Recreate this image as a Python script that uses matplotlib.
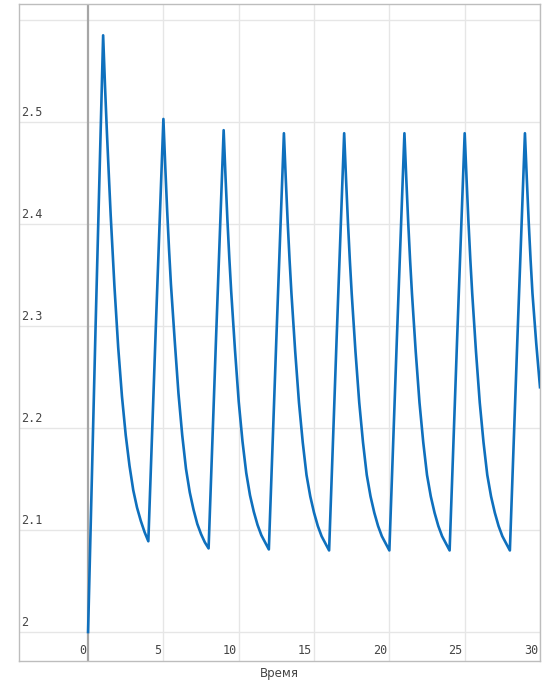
import matplotlib
matplotlib.use("Agg")
import matplotlib.pyplot as plt

# time points and values (one row per dosing cycle)
t = [0.0, 0.5, 1.0, 1.125, 1.25, 1.375, 1.5, 1.75, 2.0, 2.25, 2.5, 2.75, 3.0, 3.25, 3.5, 3.75, 4.0,
     4.5, 5.0, 5.125, 5.25, 5.375, 5.5, 5.75, 6.0, 6.25, 6.5, 6.75, 7.0, 7.25, 7.5, 7.75, 8.0,
     8.5, 9.0, 9.125, 9.25, 9.375, 9.5, 9.75, 10.0, 10.25, 10.5, 10.75, 11.0, 11.25, 11.5, 11.75, 12.0,
     12.5, 13.0, 13.125, 13.25, 13.375, 13.5, 13.75, 14.0, 14.25, 14.5, 14.75, 15.0, 15.25, 15.5, 15.75, 16.0,
     16.5, 17.0, 17.125, 17.25, 17.375, 17.5, 17.75, 18.0, 18.25, 18.5, 18.75, 19.0, 19.25, 19.5, 19.75, 20.0,
     20.5, 21.0, 21.125, 21.25, 21.375, 21.5, 21.75, 22.0, 22.25, 22.5, 22.75, 23.0, 23.25, 23.5, 23.75, 24.0,
     24.5, 25.0, 25.125, 25.25, 25.375, 25.5, 25.75, 26.0, 26.25, 26.5, 26.75, 27.0, 27.25, 27.5, 27.75, 28.0,
     28.5, 29.0, 29.125, 29.25, 29.375, 29.5, 29.75, 30.0]
y = [2.000, 2.300, 2.585, 2.535, 2.490, 2.449, 2.409, 2.339, 2.279, 2.231, 2.193, 2.163, 2.139, 2.122, 2.109, 2.098, 2.089,
     2.300, 2.503, 2.456, 2.413, 2.375, 2.341, 2.286, 2.234, 2.193, 2.160, 2.137, 2.120, 2.106, 2.096, 2.088, 2.082,
     2.290, 2.492, 2.446, 2.404, 2.367, 2.334, 2.277, 2.226, 2.187, 2.156, 2.134, 2.118, 2.105, 2.095, 2.088, 2.081,
     2.288, 2.489, 2.444, 2.402, 2.365, 2.332, 2.275, 2.225, 2.186, 2.154, 2.133, 2.117, 2.104, 2.094, 2.087, 2.080,
     2.288, 2.489, 2.444, 2.402, 2.365, 2.332, 2.275, 2.225, 2.186, 2.154, 2.133, 2.117, 2.104, 2.094, 2.087, 2.080,
     2.288, 2.489, 2.444, 2.402, 2.365, 2.332, 2.275, 2.225, 2.186, 2.154, 2.133, 2.117, 2.104, 2.094, 2.087, 2.080,
     2.288, 2.489, 2.444, 2.402, 2.365, 2.332, 2.275, 2.225, 2.186, 2.154, 2.133, 2.117, 2.104, 2.094, 2.087, 2.080,
     2.288, 2.489, 2.444, 2.402, 2.365, 2.332, 2.283, 2.240]

x_ticks = [0, 5, 10, 15, 20, 25, 30]
x_labels = ["0", "5", "10", "15", "20", "25", "30"]
y_ticks = [2.0, 2.1, 2.2, 2.3, 2.4, 2.5]
y_labels = ["2", "2.1", "2.2", "2.3", "2.4", "2.5"]
y_grid = [2.0, 2.1, 2.2, 2.3, 2.4, 2.5, 2.6]

line_color = "#0f70bd"
grid_color = "#e6e6e6"
text_color = "#444444"

fig = plt.figure(figsize=(5.5, 6.82), dpi=100)
ax = fig.add_axes([19 / 550, 21 / 682, 521 / 550, 657 / 682])

ax.set_xlim(-4.585, 30.0)
ax.set_ylim(1.9716, 2.6157)

# grid
for v in x_ticks[1:]:
    ax.axvline(v, color=grid_color, lw=1.0, zorder=0)
for v in y_grid:
    ax.axhline(v, color=grid_color, lw=1.0, zorder=0)
ax.axvline(0, color="#a6a6a6", lw=1.6, zorder=1)

ax.plot(t, y, color=line_color, lw=1.9, zorder=3, solid_joinstyle="round")

ax.set_xticks([])
ax.set_yticks([])
for s in ax.spines.values():
    s.set_color("#bdbdbd")
    s.set_linewidth(1.0)

# tick labels sit inside the plot area
for v, lab in zip(y_ticks, y_labels):
    ax.annotate(lab, xy=(0, v), xycoords=("axes fraction", "data"),
                xytext=(2, 3), textcoords="offset pixels",
                ha="left", va="bottom", fontsize=8.5,
                family="DejaVu Sans Mono", color=text_color)
for v, lab in zip(x_ticks, x_labels):
    ax.annotate(lab, xy=(v, 0), xycoords=("data", "axes fraction"),
                xytext=(-2, 11), textcoords="offset pixels",
                ha="right", va="center", fontsize=8.5,
                family="DejaVu Sans Mono", color=text_color)

ax.set_xlabel("Время", fontsize=8.5, color=text_color)
ax.xaxis.set_label_coords(0.5, -13 / 657)
ax.xaxis.label.set_va("center")

fig.savefig("out.png", dpi=100)
